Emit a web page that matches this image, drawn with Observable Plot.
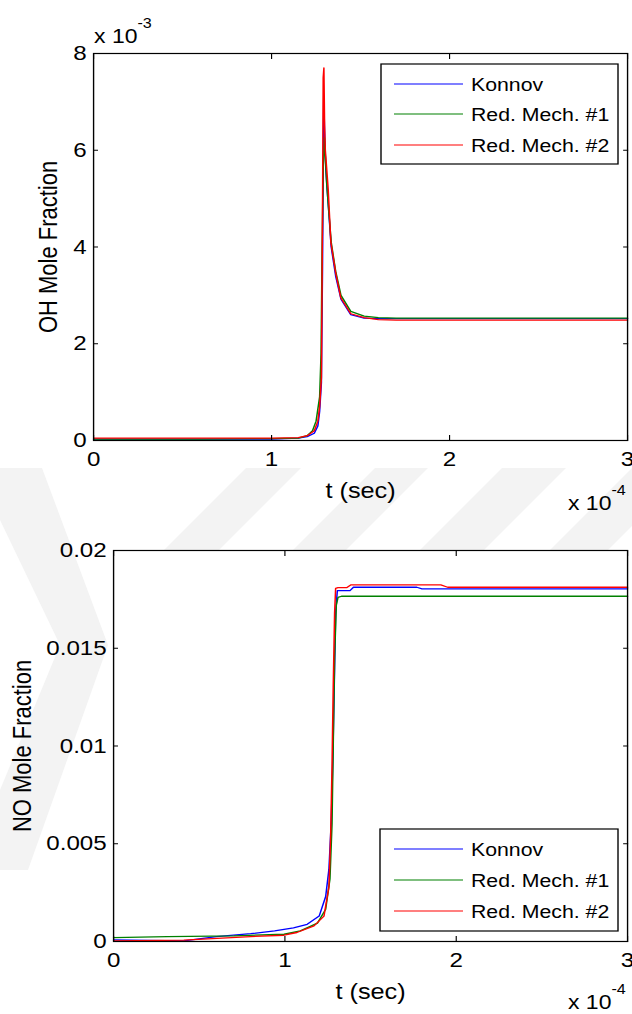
<!DOCTYPE html>
<html>
<head>
<meta charset="utf-8">
<script src="https://cdn.jsdelivr.net/npm/d3@7"></script>
<script src="https://cdn.jsdelivr.net/npm/@observablehq/plot@0.6"></script>
<style>
  html, body { margin: 0; padding: 0; background: #fff; overflow: hidden; }
  #page {
    position: relative;
    height: 1014px;
    transform-origin: 0 0;
    font-family: "Liberation Sans", Arial, sans-serif;
  }
  #page > svg { position: absolute; left: 0; }
</style>
</head>
<body>
<div id="page"></div>
<script>
// ---- Series ----------------------------------------------------------------
const seriesNames = ["Konnov", "Red. Mech. #1", "Red. Mech. #2"];
const seriesColors = ["#0000ff", "#008000", "#ff0000"];

// Time in units of 1e-4 s (axis shows "x 10^-4")
// OH mole fraction in units of 1e-3 (axis shows "x 10^-3")
const ohTimeKonnov = [0, 0.6, 1.0, 1.15, 1.2, 1.24, 1.26, 1.27, 1.28, 1.286, 1.293, 1.299, 1.305, 1.312, 1.32, 1.335, 1.36, 1.39, 1.445, 1.52, 1.6, 1.7, 2.0, 3.0];
const ohKonnov     = [0.03, 0.03, 0.03, 0.05, 0.08, 0.15, 0.3, 0.6, 1.2, 3.5, 7.1, 6.2, 5.6, 5.2, 4.8, 4.0, 3.4, 2.92, 2.6, 2.53, 2.52, 2.52, 2.52, 2.52];

const ohTimeMech1 = [0, 0.6, 1.0, 1.15, 1.2, 1.23, 1.25, 1.27, 1.278, 1.284, 1.29, 1.297, 1.303, 1.31, 1.32, 1.335, 1.36, 1.39, 1.445, 1.52, 1.6, 1.7, 2.0, 3.0];
const ohMech1     = [0.03, 0.03, 0.04, 0.05, 0.1, 0.2, 0.4, 0.9, 1.8, 4.0, 5.6, 6.26, 5.8, 5.3, 4.8, 4.1, 3.5, 3.0, 2.67, 2.57, 2.54, 2.53, 2.53, 2.53];

const ohTimeMech2 = [0, 0.6, 1.0, 1.15, 1.2, 1.24, 1.26, 1.27, 1.28, 1.285, 1.29, 1.294, 1.298, 1.302, 1.31, 1.318, 1.333, 1.361, 1.389, 1.445, 1.52, 1.6, 1.7, 2.0, 3.0];
const ohMech2     = [0.05, 0.05, 0.05, 0.06, 0.1, 0.2, 0.4, 0.7, 1.3, 4.0, 7.5, 7.7, 6.5, 6.0, 5.6, 5.2, 4.1, 3.45, 2.95, 2.62, 2.54, 2.5, 2.49, 2.49, 2.49];

// NO mole fraction (plain)
const noTimeKonnov = [0, 0.2, 0.41, 0.6, 0.8, 0.94, 1.05, 1.13, 1.2, 1.238, 1.257, 1.271, 1.28, 1.29, 1.296, 1.306, 1.33, 1.38, 1.4, 1.6, 1.77, 1.8, 2.0, 2.5, 3.0];
const noKonnov     = [0.08e-3, 0.05e-3, 0.03e-3, 0.25e-3, 0.4e-3, 0.54e-3, 0.7e-3, 0.88e-3, 1.3e-3, 2.3e-3, 3.7e-3, 6.2e-3, 9.5e-3, 14e-3, 16.8e-3, 17.95e-3, 17.95e-3, 17.95e-3, 18.12e-3, 18.12e-3, 18.12e-3, 18.04e-3, 18.04e-3, 18.04e-3, 18.04e-3];

const noTimeMech1 = [0, 0.314, 0.703, 0.995, 1.09, 1.19, 1.238, 1.263, 1.275, 1.282, 1.29, 1.3, 1.31, 1.33, 2.0, 3.0];
const noMech1     = [0.2e-3, 0.25e-3, 0.29e-3, 0.37e-3, 0.54e-3, 0.94e-3, 1.65e-3, 3.2e-3, 6e-3, 10e-3, 14.5e-3, 17.2e-3, 17.6e-3, 17.66e-3, 17.66e-3, 17.66e-3];

const noTimeMech2 = [0, 0.41, 0.8, 0.995, 1.07, 1.17, 1.228, 1.257, 1.267, 1.275, 1.282, 1.29, 1.296, 1.31, 1.36, 1.384, 1.91, 1.95, 3.0];
const noMech2     = [0.03e-3, 0.07e-3, 0.25e-3, 0.32e-3, 0.46e-3, 0.8e-3, 1.3e-3, 2.8e-3, 5.4e-3, 9e-3, 13e-3, 16.8e-3, 18.06e-3, 18.1e-3, 18.1e-3, 18.24e-3, 18.24e-3, 18.12e-3, 18.12e-3];

// ---- Axes ------------------------------------------------------------------
const timeTicks = [0, 1, 2, 3];
const ohTicks = [0, 2, 4, 6, 8];
const noTicks = [0, 0.005, 0.01, 0.015, 0.02];
const timeLabel = "t (sec)";
const ohLabel = "OH Mole Fraction";
const noLabel = "NO Mole Fraction";

// ---- Layout ----------------------------------------------------------------
const SX = 1.15;               // figure is drawn slightly stretched horizontally
const W = 632 / SX;
const pageEl = document.getElementById("page");
pageEl.style.width = W + "px";
pageEl.style.transform = `scaleX(${SX})`;
const FONT = `"Liberation Sans", Arial, sans-serif`;

function rowsOf(times, values, name) {
  return times.map((t, i) => ({t, v: values[i], series: name}));
}

const ohRows = [
  ...rowsOf(ohTimeKonnov, ohKonnov, seriesNames[0]),
  ...rowsOf(ohTimeMech1, ohMech1, seriesNames[1]),
  ...rowsOf(ohTimeMech2, ohMech2, seriesNames[2])
];
const noRows = [
  ...rowsOf(noTimeKonnov, noKonnov, seriesNames[0]),
  ...rowsOf(noTimeMech1, noMech1, seriesNames[1]),
  ...rowsOf(noTimeMech2, noMech2, seriesNames[2])
];

// Faint chevron watermark behind the figure (page pixels)
const watermark = [
  [[0, 468], [42, 468], [108, 645], [28, 870], [0, 870], [0, 790], [60, 645], [0, 520]],
  [[246, 468], [301, 468], [209, 560], [154, 560]],
  [[375, 468], [428, 468], [336, 560], [283, 560]],
  [[502, 468], [566, 468], [474, 560], [410, 560]],
  [[632, 468], [690, 468], [598, 560], [540, 560]]
];
const bg = d3.create("svg").attr("width", W).attr("height", 1014).style("top", "0px");
bg.selectAll("polygon").data(watermark).join("polygon")
  .attr("points", d => d.map(([x, y]) => `${x / SX},${y}`).join(" "))
  .attr("fill", "#f3f3f3");
pageEl.appendChild(bg.node());

const tickLenX = 5;            // vertical tick length
const tickLenY = 5 / SX;       // horizontal tick length

function panel(rows, o) {
  return Plot.plot({
    width: W,
    height: 507,
    marginTop: o.mt,
    marginBottom: o.mb,
    marginLeft: o.ml,
    marginRight: o.mr,
    x: {domain: [0, 3]},
    y: {domain: o.yDomain},
    color: {domain: seriesNames, range: seriesColors},
    style: {background: "transparent", color: "black", fontFamily: FONT, fontSize: "21px", overflow: "visible"},
    marks: [
      Plot.frame({fill: "white", stroke: "none"}),
      Plot.line(rows, {x: "t", y: "v", z: "series", stroke: "series", strokeWidth: 1.3}),
      Plot.frame({stroke: "black", strokeWidth: 1.2}),
      Plot.axisX({anchor: "bottom", ticks: timeTicks, tickSize: tickLenX, dy: -tickLenX, fill: "none", label: null}),
      Plot.axisX({anchor: "top", ticks: timeTicks, tickSize: tickLenX, dy: tickLenX, fill: "none", label: null}),
      Plot.axisY({anchor: "left", ticks: o.yTicks, tickSize: tickLenY, dx: tickLenY, fill: "none", label: null}),
      Plot.axisY({anchor: "right", ticks: o.yTicks, tickSize: tickLenY, dx: -tickLenY, fill: "none", label: null}),
      Plot.axisX({anchor: "bottom", ticks: timeTicks, tickSize: 0, tickPadding: 11, tickFormat: d => String(d), label: null}),
      Plot.axisY({anchor: "left", ticks: o.yTicks, tickSize: 0, tickPadding: 6, tickFormat: d => String(d), label: null}),
      Plot.text([timeLabel], {text: d => d, fontSize: 22, frameAnchor: "bottom", textAnchor: "middle", lineAnchor: "middle", dy: 50}),
      Plot.text([o.yLabel], {text: d => d, fontSize: 22, frameAnchor: "left", textAnchor: "middle", lineAnchor: "middle", rotate: -90, dx: o.yLabelDx})
    ]
  });
}

const ohPanel = panel(ohRows, {
  mt: 53, mb: 67, ml: 93 / SX, mr: W - 627 / SX,
  yDomain: [0, 8], yTicks: ohTicks, yLabel: ohLabel, yLabelDx: 48 / SX - 93 / SX
});
ohPanel.style.top = "0px";
pageEl.appendChild(ohPanel);

const noPanel = panel(noRows, {
  mt: 43, mb: 73, ml: 113 / SX, mr: W - 627 / SX,
  yDomain: [0, 0.02], yTicks: noTicks, yLabel: noLabel, yLabelDx: 22 / SX - 113 / SX
});
noPanel.style.top = "507px";
pageEl.appendChild(noPanel);

// ---- Legends and scale multipliers ------------------------------------------
const ov = d3.create("svg").attr("width", W).attr("height", 1014)
  .style("top", "0px").style("pointer-events", "none")
  .attr("font-family", FONT);

function legend(box) {
  const g = ov.append("g");
  g.append("rect")
    .attr("x", box.x0 / SX).attr("y", box.y0)
    .attr("width", (box.x1 - box.x0) / SX).attr("height", box.y1 - box.y0)
    .attr("fill", "white").attr("stroke", "black").attr("stroke-width", 1.2);
  seriesNames.forEach((name, i) => {
    const y = box.rows[i];
    g.append("line")
      .attr("x1", 394 / SX).attr("x2", 463 / SX).attr("y1", y).attr("y2", y)
      .attr("stroke", seriesColors[i]).attr("stroke-width", 1.2);
    g.append("text")
      .attr("x", 471 / SX).attr("y", y).attr("dy", "0.36em")
      .attr("font-size", 18.5).attr("fill", "black").text(name);
  });
}
legend({x0: 381, x1: 618, y0: 64, y1: 164, rows: [84, 114, 145]});
legend({x0: 380, x1: 618, y0: 829, y1: 931, rows: [849, 880, 911]});

function multiplier(x, y, exp) {
  const t = ov.append("text").attr("x", x / SX).attr("y", y).attr("font-size", 20).attr("fill", "black");
  t.append("tspan").text("x 10");
  t.append("tspan").attr("dy", -15).attr("font-size", 14).text(exp);
}
multiplier(94, 43, "-3");
multiplier(568, 510, "-4");
multiplier(568, 1009, "-4");

pageEl.appendChild(ov.node());
</script>
</body>
</html>
